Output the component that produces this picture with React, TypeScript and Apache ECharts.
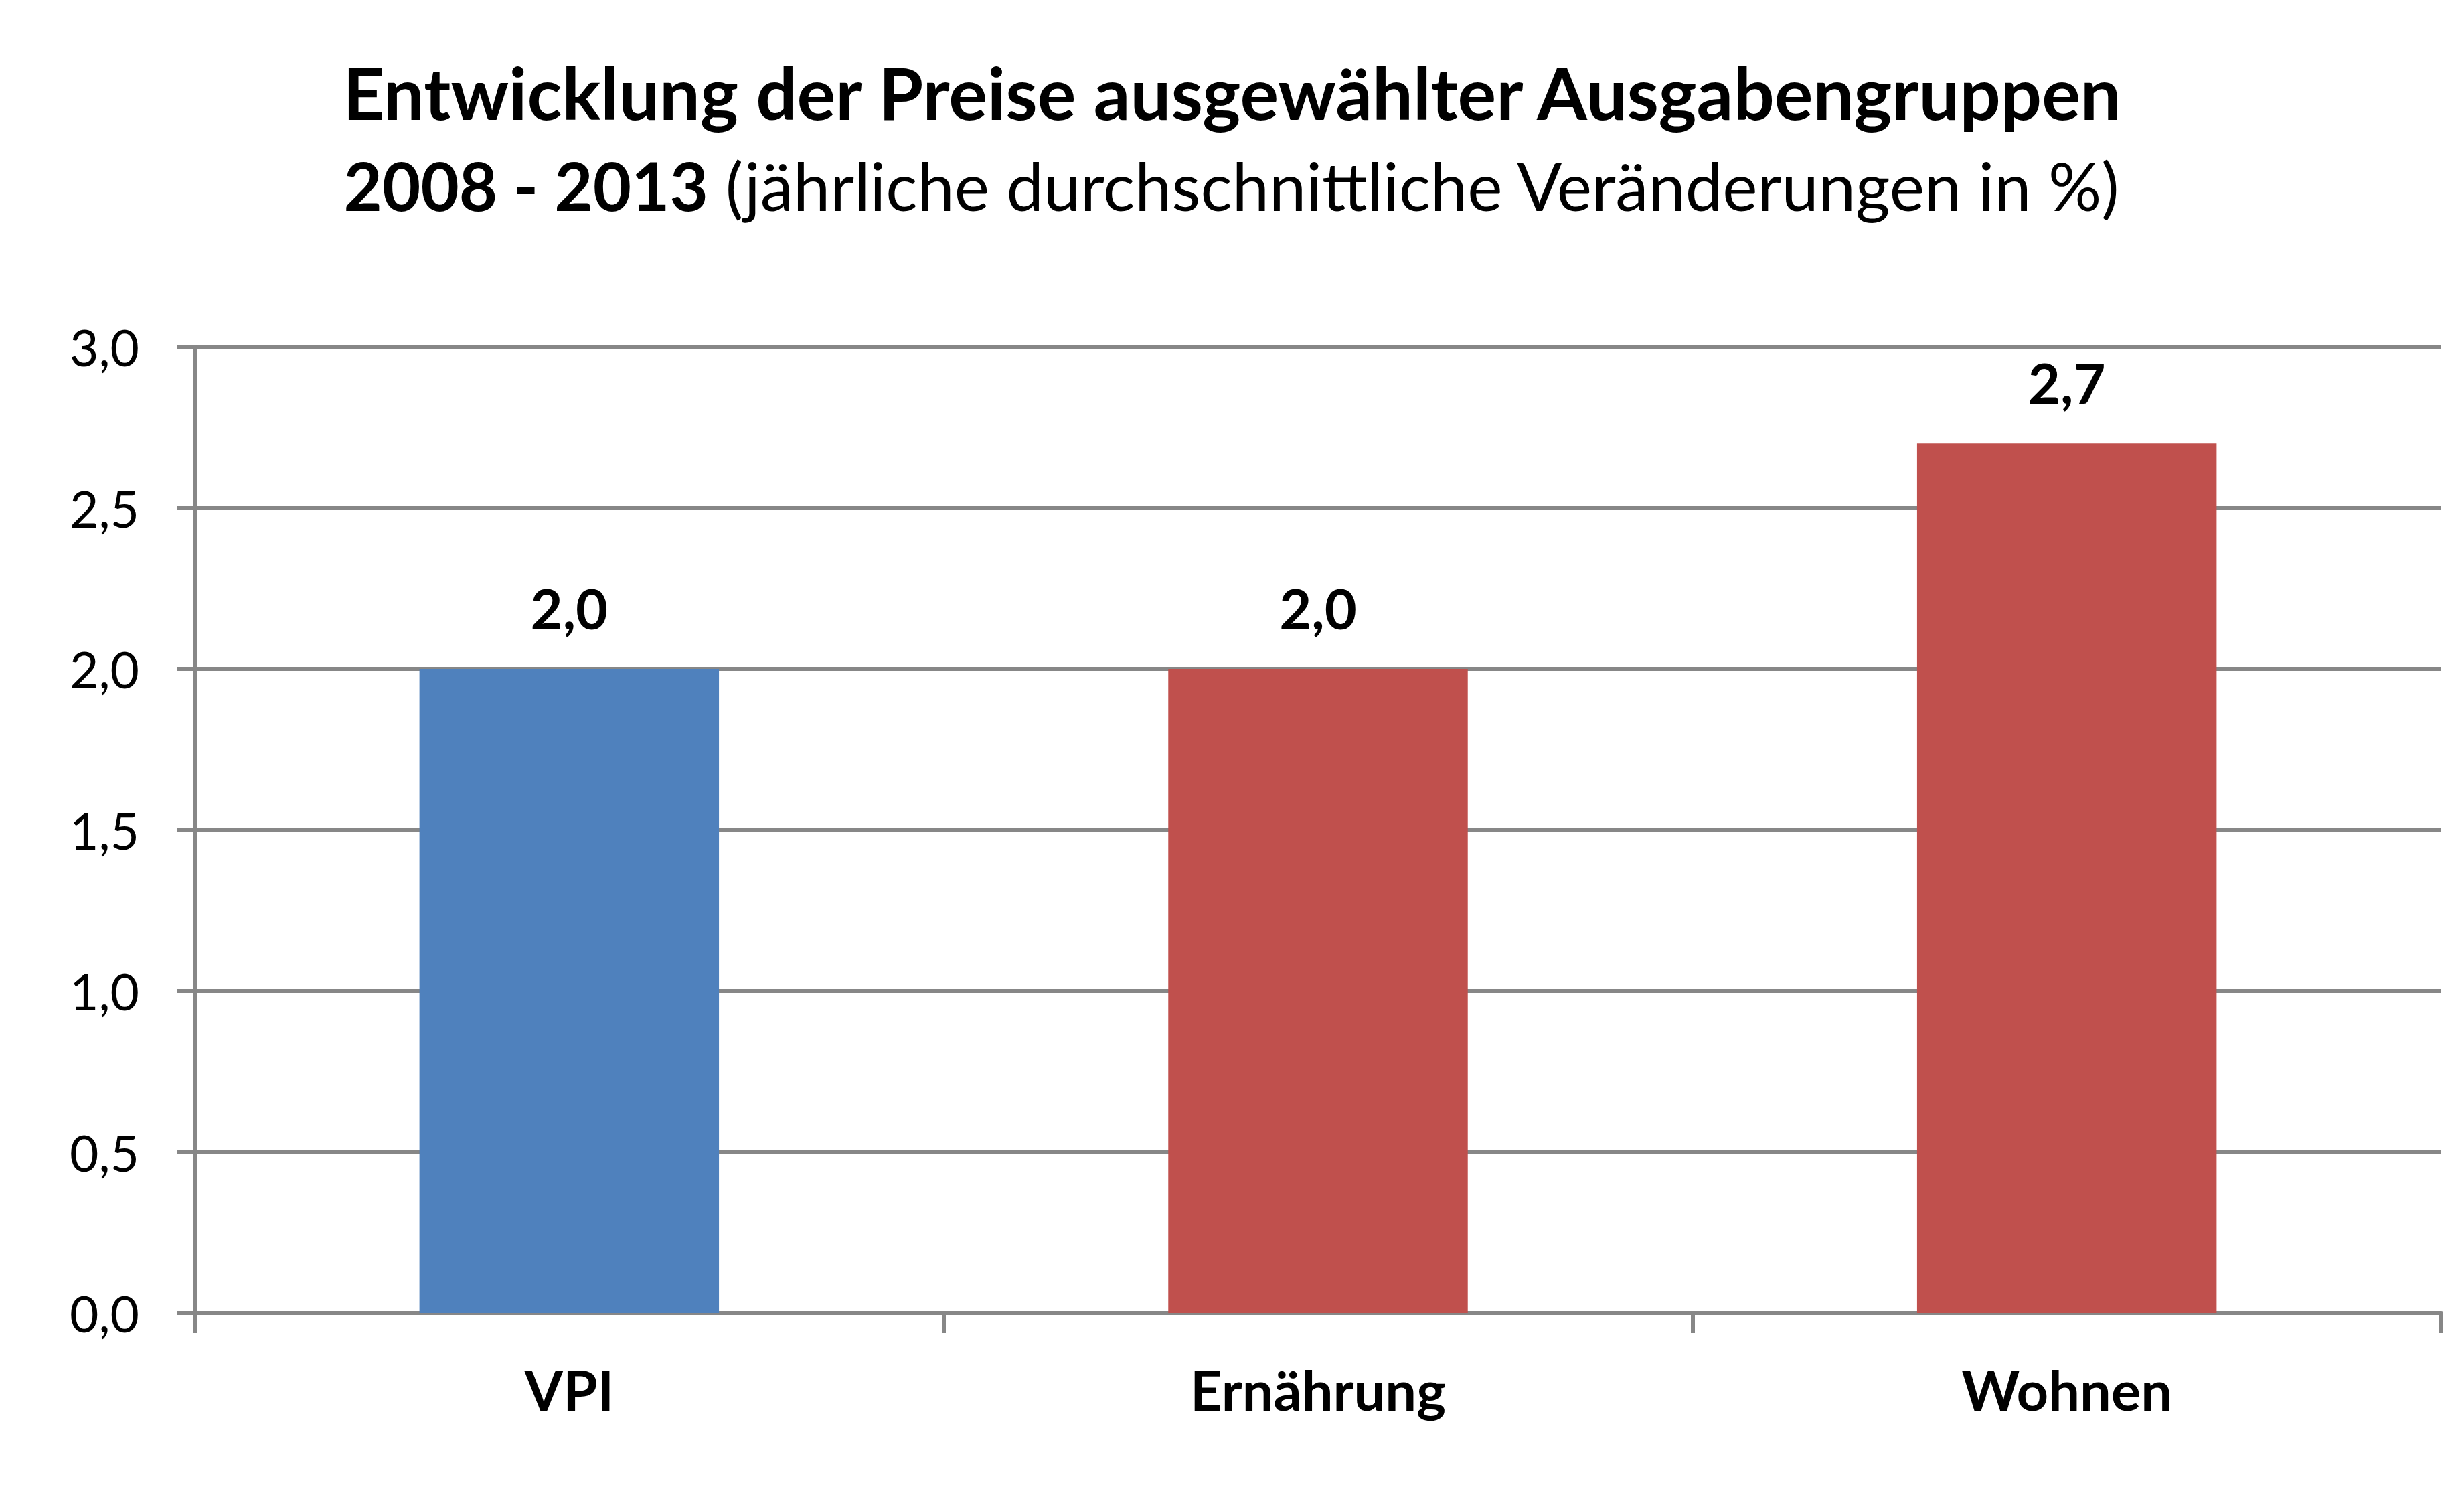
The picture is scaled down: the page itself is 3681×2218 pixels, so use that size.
import React, { useEffect, useRef } from "react";
import * as echarts from "echarts";

const categories = ["VPI", "Ernährung", "Wohnen"];
const values = [2.0, 2.0, 2.7];
const barColors = ["#4F81BD", "#C0504D", "#C0504D"];
const titleLine1 = "Entwicklung der Preise ausgewählter Ausgabengruppen";
const titleLine2Bold = "2008 - 2013";
const titleLine2Normal = "(jährliche durchschnittliche Veränderungen in %)";

const FONT = "Lato";
const fmt = (v: number) => v.toFixed(1).replace(".", ",");

export default function App() {
  const ref = useRef<HTMLDivElement>(null);
  useEffect(() => {
    if (!ref.current) return;
    const chart = echarts.init(ref.current, undefined, { renderer: "svg" });
    chart.setOption({
      animation: false,
      backgroundColor: "#ffffff",
      title: [
        {
          text: titleLine1,
          left: "center",
          top: 74,
          textStyle: { fontFamily: FONT, fontWeight: "bold", fontSize: 108, color: "#000", lineHeight: 116 },
        },
        {
          text: `{b|${titleLine2Bold}\u00A0}{n|${titleLine2Normal}}`,
          left: "center",
          top: 216,
          textStyle: {
            rich: {
              b: { fontFamily: FONT, fontWeight: "bold", fontSize: 99, color: "#000", lineHeight: 110 },
              n: { fontFamily: FONT, fontWeight: "normal", fontSize: 99, color: "#000", lineHeight: 110 },
            },
          },
        },
      ],
      grid: { left: 291, right: 34, top: 518, bottom: 257, containLabel: false },
      xAxis: {
        type: "category",
        data: categories,
        axisLine: { show: true, lineStyle: { color: "#878787", width: 6 } },
        axisTick: { show: true, length: 30, alignWithLabel: false, lineStyle: { color: "#878787", width: 6 } },
        axisLabel: { fontFamily: FONT, fontWeight: "bold", fontSize: 83, color: "#000", margin: 72 },
        splitLine: { show: false },
      },
      yAxis: {
        type: "value",
        min: 0,
        max: 3,
        interval: 0.5,
        axisLine: { show: true, lineStyle: { color: "#878787", width: 6 } },
        axisTick: { show: true, length: 27, lineStyle: { color: "#878787", width: 6 } },
        axisLabel: { fontFamily: FONT, fontSize: 75, color: "#000", margin: 83, formatter: (v: number) => fmt(v) },
        splitLine: { show: true, lineStyle: { color: "#878787", width: 6 } },
      },
      series: [
        {
          type: "bar",
          barWidth: "40%",
          data: values.map((v, i) => ({ value: v, itemStyle: { color: barColors[i] } })),
          label: {
            show: true,
            position: "top",
            distance: 50,
            fontFamily: FONT,
            fontWeight: "bold",
            fontSize: 83,
            color: "#000",
            formatter: (p: any) => fmt(p.value),
          },
        },
      ],
    });
    return () => chart.dispose();
  }, []);
  return <div ref={ref} style={{ position: "absolute", left: 0, top: 0, width: 3681, height: 2218 }} />;
}
